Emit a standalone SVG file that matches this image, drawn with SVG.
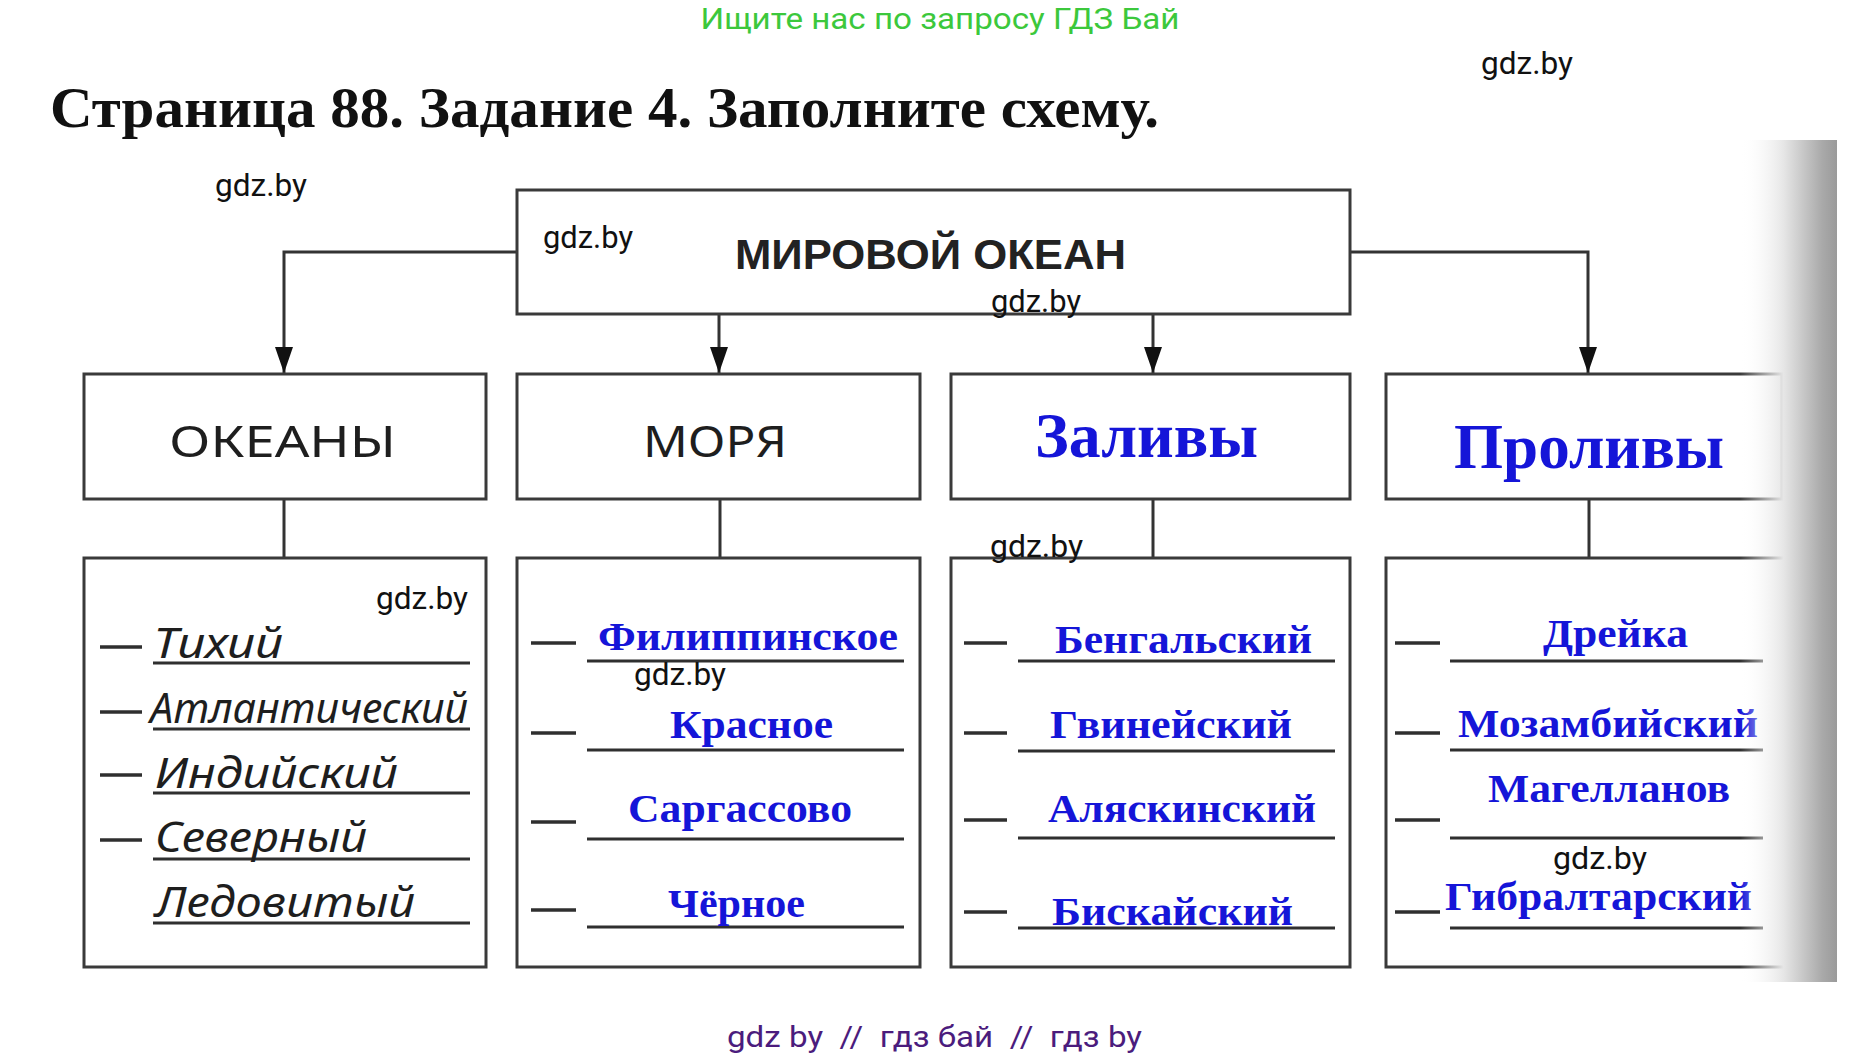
<svg xmlns="http://www.w3.org/2000/svg" width="1872" height="1057" viewBox="0 0 1872 1057">
<style>
.box{fill:#fff;stroke:#3a3a3a;stroke-width:3}
.ln{stroke:#333;stroke-width:3;fill:none}
.ul{stroke:#2f2f2f;stroke-width:3}
.dash{stroke:#2f2f2f;stroke-width:3.5}
.wm{font-family:Roboto,"Liberation Sans",sans-serif;font-size:31px;fill:#111}
.hand{font-family:"Noto Sans","DejaVu Sans",sans-serif;font-size:44px;fill:#1e1e1e}
.cur{font-family:"Noto Sans","DejaVu Sans",sans-serif;font-style:italic;font-size:42px;fill:#1e1e1e}
.blue{font-family:"Liberation Serif","Times New Roman",serif;font-weight:bold;font-size:39px;fill:#1515d8}
.bigblue{font-family:"Liberation Serif","Times New Roman",serif;font-weight:bold;font-size:64px;fill:#1515d8}
</style>
<defs>
<marker id="arr" markerUnits="userSpaceOnUse" markerWidth="28" markerHeight="20" refX="26" refY="9" orient="auto" viewBox="0 0 28 18">
<path d="M0,0 L26,9 L0,18 Z" fill="#111"/>
</marker>
<linearGradient id="shade" x1="0" y1="0" x2="1" y2="0">
<stop offset="0" stop-color="#ffffff" stop-opacity="0"/>
<stop offset="0.45" stop-color="#e6e6e6"/>
<stop offset="0.85" stop-color="#a9a9a9"/>
<stop offset="1" stop-color="#9a9a9a"/>
</linearGradient>
</defs>
<rect width="1872" height="1057" fill="#fff"/>

<text x="940" y="29" text-anchor="middle" font-family="Roboto,'Liberation Sans',sans-serif" font-size="30" fill="#3cc83c" textLength="479" lengthAdjust="spacingAndGlyphs">Ищите нас по запросу ГДЗ Бай</text>
<text x="50" y="127" font-family="'Liberation Serif','Times New Roman',serif" font-weight="bold" font-size="58" fill="#111" textLength="1109" lengthAdjust="spacingAndGlyphs">Страница 88. Задание 4. Заполните схему.</text>

<g id="connectors">
<polyline class="ln" points="517,252 284,252 284,373" marker-end="url(#arr)"/>
<polyline class="ln" points="1350,252 1588,252 1588,373" marker-end="url(#arr)"/>
<line class="ln" x1="719" y1="314" x2="719" y2="373" marker-end="url(#arr)"/>
<line class="ln" x1="1153" y1="314" x2="1153" y2="373" marker-end="url(#arr)"/>
<line class="ln" x1="284" y1="499" x2="284" y2="558"/>
<line class="ln" x1="720" y1="499" x2="720" y2="558"/>
<line class="ln" x1="1153" y1="499" x2="1153" y2="558"/>
<line class="ln" x1="1589" y1="499" x2="1589" y2="558"/>
</g>

<g id="main">
<rect class="box" x="517" y="190" width="833" height="124"/>
<text x="735" y="269" font-family="'Liberation Sans',Arial,sans-serif" font-weight="bold" font-size="42" fill="#222" textLength="391" lengthAdjust="spacingAndGlyphs">МИРОВОЙ ОКЕАН</text>
</g>

<g id="oceans">
<rect class="box" x="84" y="374" width="402" height="125"/>
<text class="hand" x="169" y="457" textLength="227" lengthAdjust="spacingAndGlyphs">ОКЕАНЫ</text>
</g>
<g id="seas">
<rect class="box" x="517" y="374" width="403" height="125"/>
<text class="hand" x="643" y="457" textLength="144" lengthAdjust="spacingAndGlyphs">МОРЯ</text>
</g>
<g id="bays">
<rect class="box" x="951" y="374" width="399" height="125"/>
<text class="bigblue" x="1035" y="457" textLength="223" lengthAdjust="spacingAndGlyphs">Заливы</text>
</g>
<g id="straits">
<rect class="box" x="1386" y="374" width="396" height="125"/>
<text class="bigblue" x="1454" y="468" textLength="270" lengthAdjust="spacingAndGlyphs">Проливы</text>
</g>

<g id="oceans-list">
<rect class="box" x="84" y="558" width="402" height="409"/>
<line class="dash" x1="100" y1="647" x2="142" y2="647"/>
<line class="dash" x1="100" y1="712" x2="142" y2="712"/>
<line class="dash" x1="100" y1="775" x2="142" y2="775"/>
<line class="dash" x1="100" y1="840" x2="142" y2="840"/>
<line class="ul" x1="153" y1="663" x2="470" y2="663"/>
<line class="ul" x1="153" y1="729" x2="470" y2="729"/>
<line class="ul" x1="153" y1="793" x2="470" y2="793"/>
<line class="ul" x1="153" y1="859" x2="470" y2="859"/>
<line class="ul" x1="153" y1="923" x2="470" y2="923"/>
<text class="cur" x="153" y="658" textLength="130" lengthAdjust="spacingAndGlyphs">Тихий</text>
<text class="cur" x="150" y="723" textLength="318" lengthAdjust="spacingAndGlyphs">Атлантический</text>
<text class="cur" x="155" y="788" textLength="243" lengthAdjust="spacingAndGlyphs">Индийский</text>
<text class="cur" x="155" y="852" textLength="212" lengthAdjust="spacingAndGlyphs">Северный</text>
<text class="cur" x="155" y="917" textLength="260" lengthAdjust="spacingAndGlyphs">Ледовитый</text>
</g>

<g id="seas-list">
<rect class="box" x="517" y="558" width="403" height="409"/>
<line class="dash" x1="531" y1="643" x2="576" y2="643"/>
<line class="dash" x1="531" y1="733" x2="576" y2="733"/>
<line class="dash" x1="531" y1="822" x2="576" y2="822"/>
<line class="dash" x1="531" y1="910" x2="576" y2="910"/>
<line class="ul" x1="587" y1="661" x2="904" y2="661"/>
<line class="ul" x1="587" y1="750" x2="904" y2="750"/>
<line class="ul" x1="587" y1="839" x2="904" y2="839"/>
<line class="ul" x1="587" y1="927" x2="904" y2="927"/>
<text class="blue" x="598" y="650" textLength="300" lengthAdjust="spacingAndGlyphs">Филиппинское</text>
<text class="blue" x="670" y="738" textLength="163" lengthAdjust="spacingAndGlyphs">Красное</text>
<text class="blue" x="628" y="822" textLength="224" lengthAdjust="spacingAndGlyphs">Саргассово</text>
<text class="blue" x="668" y="917" textLength="137" lengthAdjust="spacingAndGlyphs">Чёрное</text>
</g>

<g id="bays-list">
<rect class="box" x="951" y="558" width="399" height="409"/>
<line class="dash" x1="964" y1="643" x2="1007" y2="643"/>
<line class="dash" x1="964" y1="733" x2="1007" y2="733"/>
<line class="dash" x1="964" y1="820" x2="1007" y2="820"/>
<line class="dash" x1="964" y1="912" x2="1007" y2="912"/>
<line class="ul" x1="1018" y1="661" x2="1335" y2="661"/>
<line class="ul" x1="1018" y1="751" x2="1335" y2="751"/>
<line class="ul" x1="1018" y1="838" x2="1335" y2="838"/>
<line class="ul" x1="1018" y1="928" x2="1335" y2="928"/>
<text class="blue" x="1055" y="653" textLength="257" lengthAdjust="spacingAndGlyphs">Бенгальский</text>
<text class="blue" x="1050" y="738" textLength="242" lengthAdjust="spacingAndGlyphs">Гвинейский</text>
<text class="blue" x="1048" y="822" textLength="268" lengthAdjust="spacingAndGlyphs">Аляскинский</text>
<text class="blue" x="1052" y="925" textLength="241" lengthAdjust="spacingAndGlyphs">Бискайский</text>
</g>

<g id="straits-list">
<rect class="box" x="1386" y="558" width="400" height="409"/>
<line class="dash" x1="1395" y1="643" x2="1440" y2="643"/>
<line class="dash" x1="1395" y1="733" x2="1440" y2="733"/>
<line class="dash" x1="1395" y1="820" x2="1440" y2="820"/>
<line class="dash" x1="1395" y1="912" x2="1440" y2="912"/>
<line class="ul" x1="1450" y1="661" x2="1763" y2="661"/>
<line class="ul" x1="1450" y1="750" x2="1763" y2="750"/>
<line class="ul" x1="1450" y1="838" x2="1763" y2="838"/>
<line class="ul" x1="1450" y1="928" x2="1763" y2="928"/>
<text class="blue" x="1543" y="647" textLength="145" lengthAdjust="spacingAndGlyphs">Дрейка</text>
<text class="blue" x="1458" y="737" textLength="300" lengthAdjust="spacingAndGlyphs">Мозамбийский</text>
<text class="blue" x="1488" y="802" textLength="242" lengthAdjust="spacingAndGlyphs">Магелланов</text>
<text class="blue" x="1445" y="910" textLength="307" lengthAdjust="spacingAndGlyphs">Гибралтарский</text>
</g>

<rect x="1740" y="140" width="97" height="842" fill="url(#shade)"/>

<g id="watermarks">
<text class="wm" x="1481" y="74" textLength="92" lengthAdjust="spacingAndGlyphs">gdz.by</text>
<text class="wm" x="215" y="196" textLength="92" lengthAdjust="spacingAndGlyphs">gdz.by</text>
<text class="wm" x="543" y="248" textLength="90" lengthAdjust="spacingAndGlyphs">gdz.by</text>
<text class="wm" x="991" y="312" textLength="90" lengthAdjust="spacingAndGlyphs">gdz.by</text>
<text class="wm" x="990" y="557" textLength="93" lengthAdjust="spacingAndGlyphs">gdz.by</text>
<text class="wm" x="376" y="609" textLength="92" lengthAdjust="spacingAndGlyphs">gdz.by</text>
<text class="wm" x="634" y="685" textLength="92" lengthAdjust="spacingAndGlyphs">gdz.by</text>
<text class="wm" x="1553" y="869" textLength="94" lengthAdjust="spacingAndGlyphs">gdz.by</text>
</g>

<text x="727" y="1047" font-family="Roboto,'Liberation Sans',sans-serif" font-size="30" fill="#4b1c7d" textLength="415" lengthAdjust="spacingAndGlyphs" xml:space="preserve">gdz by  //  гдз бай  //  гдз by</text>
</svg>
